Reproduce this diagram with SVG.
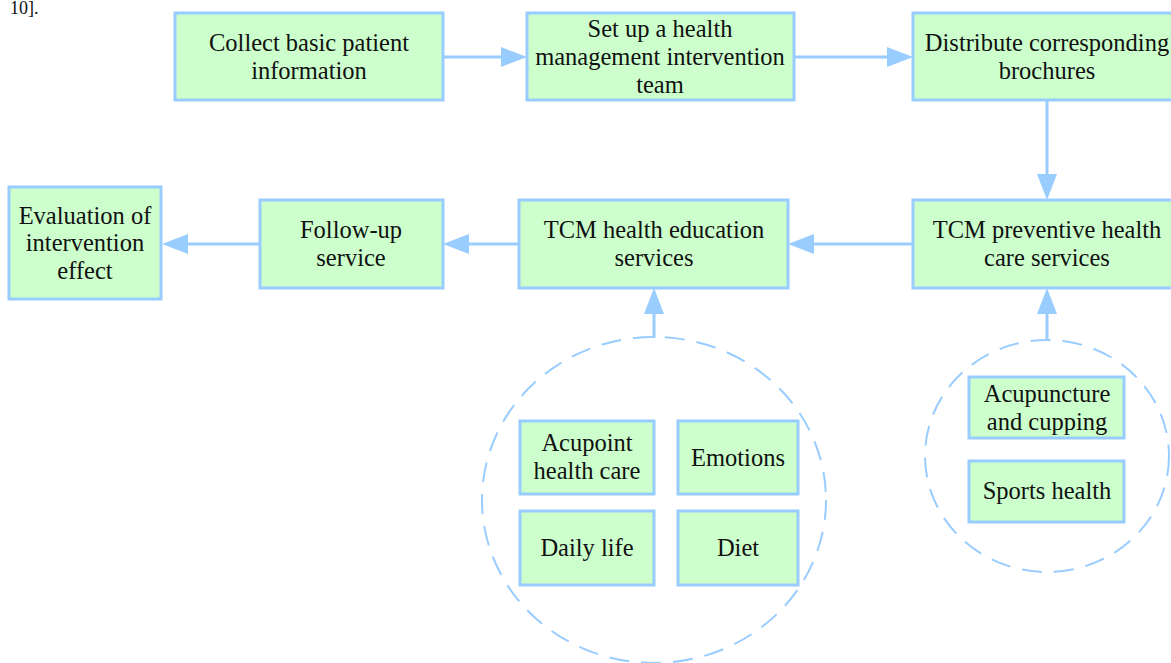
<svg xmlns="http://www.w3.org/2000/svg" width="1171" height="663" viewBox="0 0 1171 663">
<defs>
<marker id="ah" markerUnits="userSpaceOnUse" markerWidth="26" markerHeight="20" refX="18" refY="10" orient="auto">
<path d="M0,0 L26,10 L0,20 z" fill="#99CCFF"/>
</marker>
<style>
.box{fill:#CCFFCC;stroke:#99CCFF;stroke-width:3}
.t{font-family:"Liberation Serif",serif;font-size:24.5px;fill:#111;text-anchor:middle}
.c{stroke:#99CCFF;stroke-width:3;fill:none}
.d{stroke:#99CCFF;stroke-width:2;fill:none;stroke-dasharray:20 12}
</style>
</defs>
<rect width="1171" height="663" fill="#fff"/>
<g font-family="Liberation Serif, serif">
<text x="10" y="14" font-size="18" fill="#111">10].</text>

<g id="connectors">
<line class="c" x1="443" y1="57" x2="519" y2="57" marker-end="url(#ah)"/>
<line class="c" x1="794" y1="57" x2="905" y2="57" marker-end="url(#ah)"/>
<line class="c" x1="1047" y1="100" x2="1047" y2="192" marker-end="url(#ah)"/>
<line class="c" x1="913" y1="244" x2="796" y2="244" marker-end="url(#ah)"/>
<line class="c" x1="519" y1="244" x2="451" y2="244" marker-end="url(#ah)"/>
<line class="c" x1="260" y1="244" x2="170" y2="244" marker-end="url(#ah)"/>
<line class="c" x1="654" y1="338" x2="654" y2="296" marker-end="url(#ah)"/>
<line class="c" x1="1047" y1="341" x2="1047" y2="296" marker-end="url(#ah)"/>
</g>

<g id="group-education">
<ellipse class="d" cx="654" cy="500" rx="172" ry="163"/>
</g>
<g id="group-preventive">
<ellipse class="d" cx="1047" cy="456" rx="122" ry="116"/>
</g>

<g id="n1"><rect class="box" x="175" y="13" width="268" height="87"/>
<text class="t" x="309" y="51">Collect basic patient</text><text class="t" x="309" y="79">information</text></g>
<g id="n2"><rect class="box" x="527" y="13" width="267" height="87"/>
<text class="t" x="660" y="37">Set up a health</text><text class="t" x="660" y="65">management intervention</text><text class="t" x="660" y="93">team</text></g>
<g id="n3"><rect class="box" x="913" y="13" width="270" height="87"/>
<text class="t" x="1047" y="51">Distribute corresponding</text><text class="t" x="1047" y="79">brochures</text></g>
<g id="n4"><rect class="box" x="913" y="200" width="270" height="88"/>
<text class="t" x="1047" y="238">TCM preventive health</text><text class="t" x="1047" y="266">care services</text></g>
<g id="n5"><rect class="box" x="519" y="200" width="269" height="88"/>
<text class="t" x="654" y="238">TCM health education</text><text class="t" x="654" y="266">services</text></g>
<g id="n6"><rect class="box" x="260" y="200" width="183" height="88"/>
<text class="t" x="351" y="238">Follow-up</text><text class="t" x="351" y="266">service</text></g>
<g id="n7"><rect class="box" x="9" y="187" width="152" height="112"/>
<text class="t" x="85" y="224">Evaluation of</text><text class="t" x="85" y="251">intervention</text><text class="t" x="85" y="279">effect</text></g>
<g id="n8"><rect class="box" x="520" y="421" width="134" height="73"/>
<text class="t" x="587" y="451">Acupoint</text><text class="t" x="587" y="479">health care</text></g>
<g id="n9"><rect class="box" x="678" y="421" width="120" height="73"/>
<text class="t" x="738" y="466">Emotions</text></g>
<g id="n10"><rect class="box" x="520" y="511" width="134" height="74"/>
<text class="t" x="587" y="556">Daily life</text></g>
<g id="n11"><rect class="box" x="678" y="511" width="120" height="74"/>
<text class="t" x="738" y="556">Diet</text></g>
<g id="n12"><rect class="box" x="969" y="377" width="155" height="61"/>
<text class="t" x="1047" y="402">Acupuncture</text><text class="t" x="1047" y="430">and cupping</text></g>
<g id="n13"><rect class="box" x="969" y="461" width="155" height="61"/>
<text class="t" x="1047" y="499">Sports health</text></g>
</g>
</svg>
